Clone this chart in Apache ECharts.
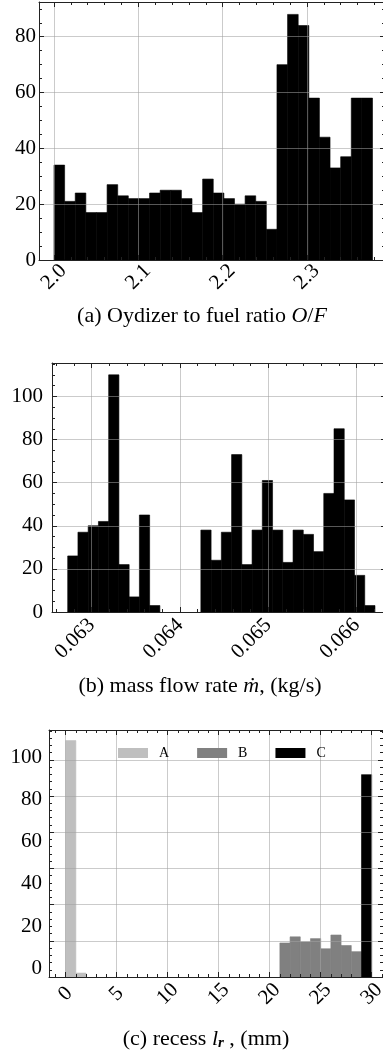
<!DOCTYPE html>
<html>
<head>
<meta charset="utf-8">
<script src="https://cdn.jsdelivr.net/npm/echarts@6/dist/echarts.min.js"></script>
<style>
html,body{margin:0;padding:0;background:#fff;}
#chart{width:383px;height:1053px;}
</style>
</head>
<body>
<div id="chart"></div>
<script>
// ---------- data ----------
// (a) Oxidizer to fuel ratio histogram
const ofXTicks = [2.0, 2.1, 2.2, 2.3];
const ofYTicks = [0, 20, 40, 60, 80];
const ofBinStart = 2.0;
const ofBinWidth = 0.01259;
const ofCounts = [34, 21, 24, 17, 17, 27, 23, 22, 22, 24, 25, 25, 22, 17, 29,
                  24, 22, 20, 23, 21, 11, 70, 88, 84, 58, 44, 33, 37, 58, 58];

// (b) mass flow rate histogram
const mfXTicks = [0.063, 0.064, 0.065, 0.066];
const mfYTicks = [0, 20, 40, 60, 80, 100];
const mfBinStart = 0.0627286;
const mfBinWidth = 0.00011596;
const mfCounts = [26, 37, 40, 42, 110, 22, 7, 45, 3, 0, 0, 0, 0, 38, 24,
                  37, 73, 22, 38, 61, 38, 23, 38, 36, 28, 55, 85, 52, 17, 3];

// (c) recess histogram, three groups
const rcXTicks = [0, 5, 10, 15, 20, 25, 30];
const rcYGridTicks = [0, 10, 20, 30, 40, 50, 60];
const rcYTickLabels = [0, 20, 40, 60, 80, 100];
const rcNames = ['A', 'B', 'C'];
const rcABinEdges = [0, 1, 2];
const rcACounts = [65.3, 1.1];
const rcBBinEdges = [21, 22, 23, 24, 25, 26, 27, 28, 29];
const rcBCounts = [9.4, 11.1, 9.7, 10.6, 7.8, 11.6, 8.7, 7.0];
const rcCBinEdges = [29, 30];
const rcCCounts = [55.9];

const captions = {
  a: '(a) Oydizer to fuel ratio {i|O}/{i|F}',
  b: '(b) mass flow rate {i|ṁ}, (kg/s)',
  c: '(c) recess {i|l}{sub|r} , (mm)'
};

// ---------- styling ----------
const FONT = 'Liberation Serif';
const AX = '#222';
const GRIDC = 'rgba(160,160,160,0.55)';
const COLORS = { A: '#bfbfbf', B: '#808080', C: '#000000', hist: '#000000' };

function steps(a, b, s) {
  const out = [];
  for (let k = Math.ceil(a / s - 1e-9); k * s <= b + 1e-9; k++) out.push(+(k * s).toFixed(10));
  return out;
}
function within(arr, a, b) { return arr.filter(v => v >= a - 1e-12 && v <= b + 1e-12); }

const grids = [], xAxes = [], yAxes = [], series = [];

function axisBase(gi, min, max, position, tickVals, len, showLine) {
  return {
    type: 'value', gridIndex: gi, min: min, max: max, position: position,
    axisLine: { show: showLine, onZero: false, lineStyle: { color: AX, width: 1 } },
    axisTick: { show: true, inside: true, length: len, customValues: tickVals,
                lineStyle: { color: AX, width: 1 } },
    axisLabel: { show: false },
    splitLine: { show: false },
    minorTick: { show: false },
    minorSplitLine: { show: false },
    z: 3
  };
}

function addPanel(p) {
  const gi = grids.length;
  grids.push({ left: p.left, top: p.top, width: p.width, height: p.height,
               containLabel: false, outerBoundsMode: 'none', show: false });
  const xMaj = within(p.xMajor, p.xMin, p.xMax);
  const xMin = within(steps(p.xMin, p.xMax, p.xMinorStep), p.xMin, p.xMax);
  const yMaj = within(p.yMajor, p.yMin, p.yMax);
  const yMin = within(steps(p.yMin, p.yMax, p.yMinorStep), p.yMin, p.yMax);

  const xi = xAxes.length;
  const bx = axisBase(gi, p.xMin, p.xMax, 'bottom', xMaj, 5, true);
  bx.axisLabel = Object.assign({
    show: true, customValues: xMaj, rotate: 45, formatter: p.xFmt,
    fontFamily: FONT, fontSize: 21, color: '#000'
  }, p.xLabel);
  bx.splitLine = { show: true, lineStyle: { color: GRIDC, width: 1 } };
  xAxes.push(bx);
  xAxes.push(axisBase(gi, p.xMin, p.xMax, 'bottom', xMin, 3, false));
  xAxes.push(axisBase(gi, p.xMin, p.xMax, 'top', xMaj, 5, true));
  xAxes.push(axisBase(gi, p.xMin, p.xMax, 'top', xMin, 3, false));

  const yi = yAxes.length;
  const ly = axisBase(gi, p.yMin, p.yMax, 'left', yMaj, 5, true);
  ly.splitLine = { show: true, lineStyle: { color: GRIDC, width: 1 } };
  if (!p.yLabelAxis) {
    ly.axisLabel = { show: true, customValues: yMaj, fontFamily: FONT, fontSize: 21,
                     color: '#000', margin: p.yLabelMargin };
  }
  yAxes.push(ly);
  yAxes.push(axisBase(gi, p.yMin, p.yMax, 'left', yMin, 3, false));
  yAxes.push(axisBase(gi, p.yMin, p.yMax, 'right', yMaj, 5, true));
  yAxes.push(axisBase(gi, p.yMin, p.yMax, 'right', yMin, 3, false));
  if (p.yLabelAxis) {
    const la = p.yLabelAxis;
    yAxes.push({
      type: 'value', gridIndex: gi, min: la.min, max: la.max, position: 'left',
      axisLine: { show: false, onZero: false }, axisTick: { show: false },
      splitLine: { show: false },
      axisLabel: { show: true, customValues: la.values, fontFamily: FONT, fontSize: 21,
                   color: '#000', margin: p.yLabelMargin },
      z: 3
    });
  }
  return { xi: xi, yi: yi };
}

function renderBin(params, api) {
  if (!(api.value(2) > 0)) return null;
  const p0 = api.coord([api.value(0), api.value(2)]);
  const p1 = api.coord([api.value(1), 0]);
  const col = api.visual('color');
  return {
    type: 'rect',
    shape: { x: p0[0], y: p0[1], width: p1[0] - p0[0], height: p1[1] - p0[1] },
    style: { fill: col, stroke: col, lineWidth: 0.6 }
  };
}
function binsFromStart(start, width, counts) {
  return counts.map((c, i) => [start + i * width, start + (i + 1) * width, c]);
}
function binsFromEdges(edges, counts) {
  return counts.map((c, i) => [edges[i], edges[i + 1], c]);
}
function histSeries(name, ax, data, color) {
  return {
    type: 'custom', name: name, xAxisIndex: ax.xi, yAxisIndex: ax.yi,
    renderItem: renderBin, data: data, encode: { x: [0, 1], y: 2 },
    itemStyle: { color: color }, z: 2, silent: true, clip: true
  };
}

// panel (a)
const axA = addPanel({
  left: 39, top: 2, width: 346, height: 258,
  xMin: 1.98221, xMax: 2.39251, xMajor: ofXTicks, xMinorStep: 0.02,
  xFmt: v => v.toFixed(1),
  xLabel: { align: 'center', verticalAlign: 'middle', margin: 17 },
  yMin: 0, yMax: 92.44, yMajor: ofYTicks, yMinorStep: 5, yLabelMargin: 3
});
series.push(histSeries('ofr', axA, binsFromStart(ofBinStart, ofBinWidth, ofCounts), COLORS.hist));

// panel (b)
const axB = addPanel({
  left: 52, top: 363, width: 334, height: 249,
  xMin: 0.06255089, xMax: 0.06633219, xMajor: mfXTicks, xMinorStep: 0.0002,
  xFmt: v => v.toFixed(3),
  xLabel: { align: 'right', verticalAlign: 'middle', margin: 10 },
  yMin: 0, yMax: 115.5, yMajor: mfYTicks, yMinorStep: 5, yLabelMargin: 9
});
series.push(histSeries('mdot', axB, binsFromStart(mfBinStart, mfBinWidth, mfCounts), COLORS.hist));

// panel (c)
const axC = addPanel({
  left: 49, top: 730, width: 334, height: 247,
  xMin: -1.634, xMax: 31.11, xMajor: rcXTicks, xMinorStep: 1,
  xFmt: v => String(Math.round(v)),
  xLabel: { align: 'center', verticalAlign: 'middle', margin: 17 },
  yMin: 0, yMax: 68.23, yMajor: rcYGridTicks, yMinorStep: 2, yLabelMargin: 7,
  yLabelAxis: { min: -4.12, max: 112.78, values: rcYTickLabels }
});
series.push(histSeries(rcNames[0], axC, binsFromEdges(rcABinEdges, rcACounts), COLORS.A));
series.push(histSeries(rcNames[1], axC, binsFromEdges(rcBBinEdges, rcBCounts), COLORS.B));
series.push(histSeries(rcNames[2], axC, binsFromEdges(rcCBinEdges, rcCCounts), COLORS.C));

function caption(text, x, y) {
  return {
    type: 'text', x: x, y: y, z: 10,
    style: {
      text: text, fill: '#000', font: '22px "' + FONT + '"',
      fontSize: 22, fontFamily: FONT,
      align: 'center', verticalAlign: 'middle',
      textAlign: 'center', textVerticalAlign: 'middle',
      rich: {
        i: { fontStyle: 'italic', fontSize: 22, fontFamily: FONT, fill: '#000' },
        sub: { fontStyle: 'italic', fontWeight: 'bold', fontSize: 15, fontFamily: FONT,
               fill: '#000', padding: [9, 0, 0, 0] }
      }
    }
  };
}

const chart = echarts.init(document.getElementById('chart'), null, { renderer: 'canvas' });
chart.setOption({
  backgroundColor: '#fff',
  animation: false,
  grid: grids,
  xAxis: xAxes,
  yAxis: yAxes,
  series: series,
  legend: {
    data: rcNames, left: 113, top: 741, orient: 'horizontal',
    icon: 'rect', itemWidth: 30, itemHeight: 10, itemGap: 28,
    selectedMode: false,
    textStyle: { fontFamily: FONT, fontSize: 14, color: '#000', padding: [0, 0, 0, 6] }
  },
  graphic: [
    caption(captions.a, 202, 316),
    caption(captions.b, 200, 686),
    caption(captions.c, 206, 1039)
  ]
});
</script>
</body>
</html>
